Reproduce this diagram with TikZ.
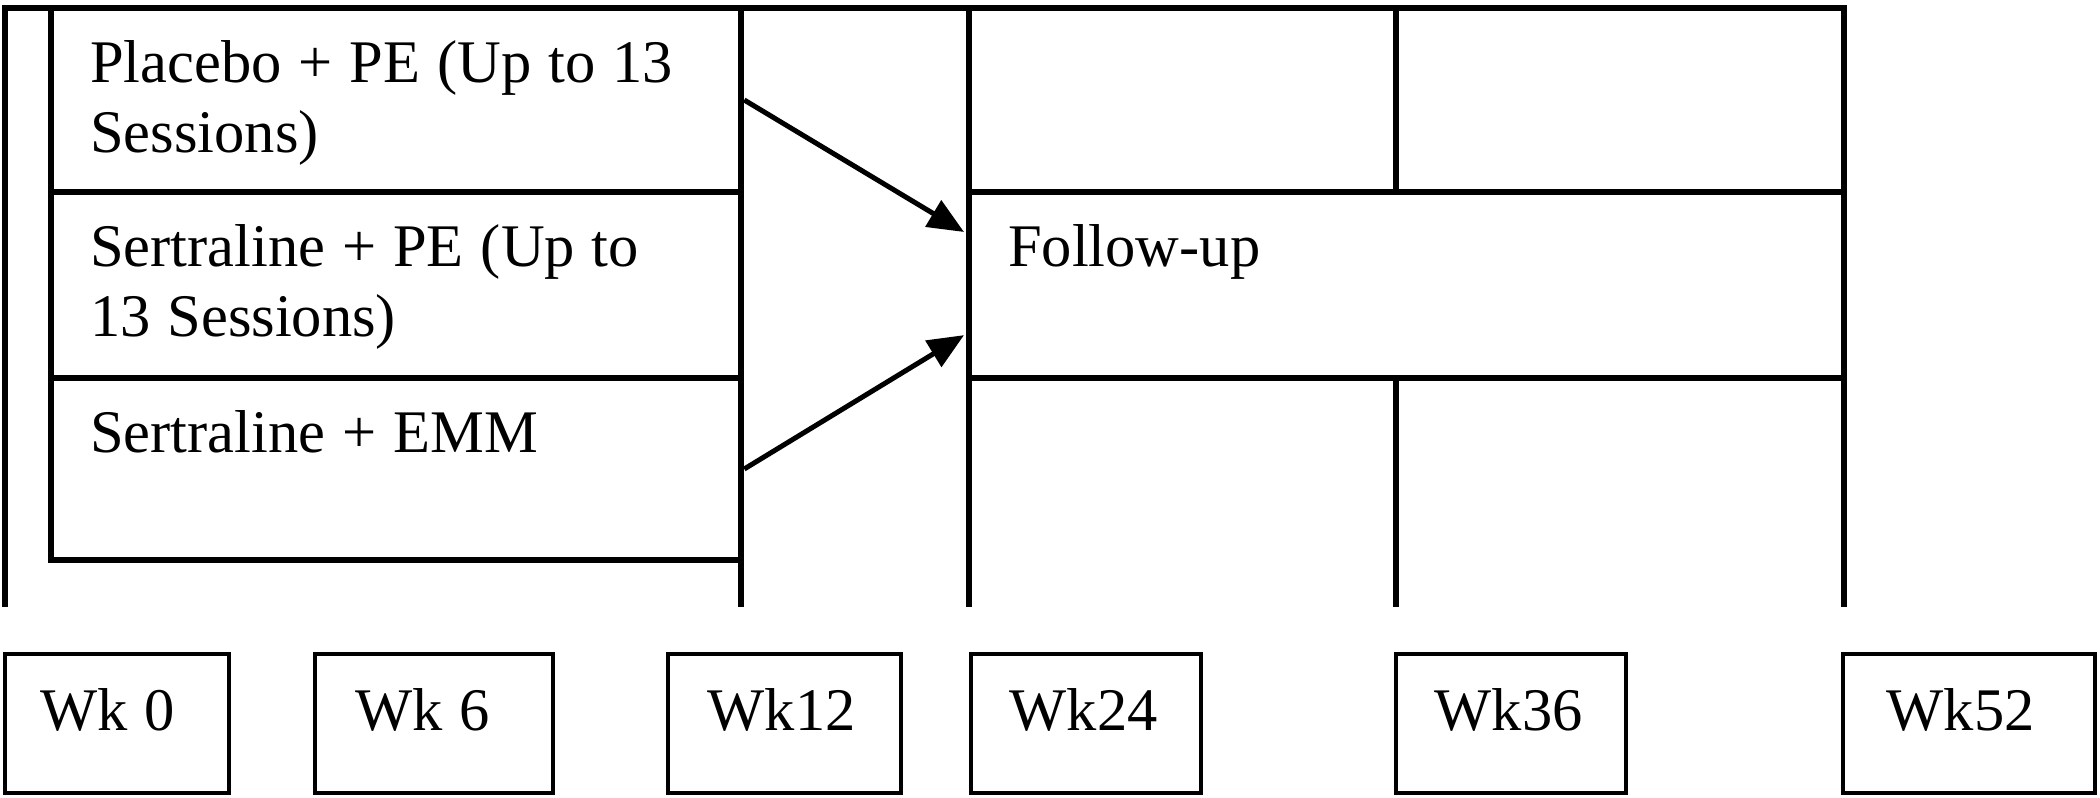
\documentclass[tikz,border=0pt]{standalone}
\usepackage{fontspec}
\setmainfont{Liberation Serif}
\usetikzlibrary{arrows.meta,fit,calc}
\begin{document}
\begin{tikzpicture}[x=0.5pt,y=-0.5pt,
  grid/.style={line width=3.25pt, line join=miter, line cap=rect},
  cell/.style={draw, line width=3.25pt, inner sep=0pt},
  wkbox/.style={draw, line width=1.75pt, inner sep=0pt},
  txt/.style={inner sep=0pt, anchor=base west, align=left, text width=330pt,
    font=\fontsize{30.25pt}{35pt}\selectfont,
    execute at begin node={\spaceskip=0.28em\relax\xspaceskip=0.28em\relax}},
  flow/.style={line width=2.5pt, -{Triangle[length=18pt,width=15pt]}, shorten >=1pt}]
\useasboundingbox (0,0) rectangle (2100,798);
% frame and column lines
\draw[grid] (5,604) -- (5,8) -- (1844,8) -- (1844,604);
\draw[grid] (741,8) -- (741,604);
\draw[grid] (969,8) -- (969,604);
\draw[grid] (1396,8) -- (1396,192);
\draw[grid] (1396,378) -- (1396,604);
% arm boxes
\node[cell, fit={(51,8) (741,192)}] (r1) {};
\node[cell, fit={(51,192) (741,378)}] (r2) {};
\node[cell, fit={(51,378) (741,560)}] (r3) {};
\node[cell, fit={(969,192) (1844,378)}] (fu) {};
\node[txt] (t1) at ([xshift=21pt,yshift=-39pt]r1.north west) {Placebo + PE (Up to 13\\Sessions)};
\node[txt] (t2) at ([xshift=21pt,yshift=-39pt]r2.north west) {Sertraline + PE (Up to\\13 Sessions)};
\node[txt] (t3) at ([xshift=21pt,yshift=-39pt]r3.north west) {Sertraline + EMM};
\node[txt] (t4) at ([xshift=21pt,yshift=-39pt]fu.north west) {Follow-up};
% arrows
\draw[flow] (r1.east) -- ($(fu.north west)!0.23!(fu.south west)$);
\draw[flow] (r3.east) -- ($(fu.north west)!0.755!(fu.south west)$);
% week boxes
\node[wkbox, fit={(5,654) (229,793)}] (w0) {};
\node[wkbox, fit={(315,654) (553,793)}] (w6) {};
\node[wkbox, fit={(668,654) (901,793)}] (w12) {};
\node[wkbox, fit={(971,654) (1201,793)}] (w24) {};
\node[wkbox, fit={(1396,654) (1626,793)}] (w36) {};
\node[wkbox, fit={(1843,654) (2095,793)}] (w52) {};
\node[txt] (l0) at ([xshift=18.5pt,yshift=-39pt]w0.north west) {Wk 0};
\node[txt] (l6) at ([xshift=21pt,yshift=-39pt]w6.north west) {Wk 6};
\node[txt] (l12) at ([xshift=20.5pt,yshift=-39pt]w12.north west) {Wk12};
\node[txt] (l24) at ([xshift=20pt,yshift=-39pt]w24.north west) {Wk24};
\node[txt] (l36) at ([xshift=20pt,yshift=-39pt]w36.north west) {Wk36};
\node[txt] (l52) at ([xshift=22.5pt,yshift=-39pt]w52.north west) {Wk52};
\end{tikzpicture}
\end{document}
